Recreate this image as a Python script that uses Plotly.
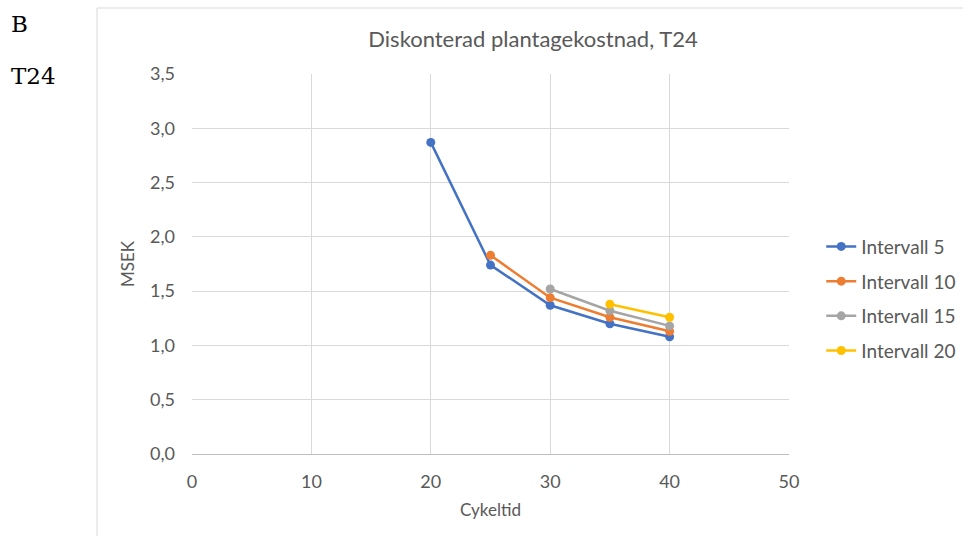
import plotly.graph_objects as go

# Cycle time (years) and discounted plantation cost (MSEK) per thinning interval
cykeltid = [20, 25, 30, 35, 40]
intervall_5 = [2.87, 1.74, 1.37, 1.20, 1.08]
intervall_10 = [None, 1.83, 1.44, 1.26, 1.13]
intervall_15 = [None, None, 1.52, 1.32, 1.18]
intervall_20 = [None, None, None, 1.38, 1.26]

series_names = ["Intervall 5", "Intervall 10", "Intervall 15", "Intervall 20"]
series_values = [intervall_5, intervall_10, intervall_15, intervall_20]
series_colors = ["#4472C4", "#ED7D31", "#A5A5A5", "#FFC000"]

x_ticks = [0, 10, 20, 30, 40, 50]
y_ticks = [0, 0.5, 1.0, 1.5, 2.0, 2.5, 3.0, 3.5]

fig = go.Figure()
for name, vals, col in zip(series_names, series_values, series_colors):
    fig.add_trace(go.Scatter(
        x=cykeltid, y=vals, name=name, legendgroup=name, mode="lines+markers",
        line=dict(color=col, width=2.5),
        marker=dict(color=col, size=9),
        connectgaps=False,
    ))

font_main = "Lato, 'Open Sans', sans-serif"
grey_txt = "#595959"
serif = "'DejaVu Serif', 'Liberation Serif', serif"

fig.update_layout(
    width=963, height=536,
    margin=dict(l=192, r=174, t=74, b=82, autoexpand=False),
    paper_bgcolor="white", plot_bgcolor="white",
    separators=",.",
    font=dict(family=font_main, size=17, color=grey_txt),
    title=dict(text="Diskonterad plantagekostnad, T24", x=533 / 963, xanchor="center",
               y=1 - 39 / 536, yanchor="middle",
               font=dict(size=22, color=grey_txt, family=font_main)),
    showlegend=True,
    legend=dict(x=1.054, xanchor="left", y=0.409, yanchor="middle",
                font=dict(size=19, color=grey_txt, family=font_main),
                itemwidth=30, tracegroupgap=7, bgcolor="rgba(0,0,0,0)"),
    xaxis=dict(range=[0, 50], tickvals=x_ticks, showgrid=True, gridcolor="#D9D9D9",
               gridwidth=1, zeroline=False, showline=True, linecolor="#BFBFBF",
               ticks="", ticklabelstandoff=11, tickfont=dict(size=18, color=grey_txt),
               title=dict(text="Cykeltid", font=dict(size=17, color=grey_txt), standoff=13)),
    yaxis=dict(range=[0, 3.5], tickvals=y_ticks, tickformat=".1f", showgrid=True,
               gridcolor="#D9D9D9", gridwidth=1, zeroline=False, showline=False,
               ticks="", ticklabelstandoff=16, tickfont=dict(size=18, color=grey_txt),
               title=dict(text="MSEK", font=dict(size=17, color=grey_txt), standoff=11)),
)

# Chart frame
fig.add_shape(type="rect", xref="paper", yref="paper",
              x0=(97 - 192) / 597, x1=1.5, y0=-0.5, y1=(454 - 8) / 380,
              line=dict(color="#D9D9D9", width=1), fillcolor="rgba(0,0,0,0)", layer="below")

# Figure labels at the left
fig.add_annotation(text="B", xref="paper", yref="paper", x=(9 - 192) / 597, xanchor="left",
                   y=(454 - 24) / 380, yanchor="middle", showarrow=False,
                   font=dict(family=serif, size=23, color="#000000"))
fig.add_annotation(text="T24", xref="paper", yref="paper", x=(9 - 192) / 597, xanchor="left",
                   y=(454 - 76) / 380, yanchor="middle", showarrow=False,
                   font=dict(family=serif, size=23, color="#000000"))

fig.write_html("out.html")
